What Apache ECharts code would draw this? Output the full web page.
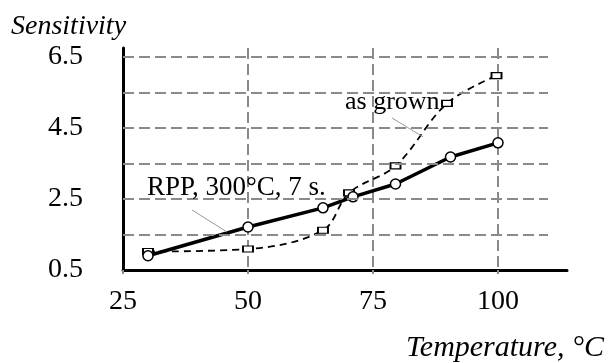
<!DOCTYPE html>
<html>
<head>
<meta charset="utf-8">
<script src="https://cdn.jsdelivr.net/npm/echarts@6/dist/echarts.min.js"></script>
<style>
  html, body { margin: 0; padding: 0; background: #fff; }
  #chart { width: 609px; height: 363px; }
</style>
</head>
<body>
<div id="chart"></div>
<script>
// данные
const tempRpp = [30, 50, 65, 71, 79.5, 90.5, 100];
const sensRpp = [0.9, 1.71, 2.25, 2.56, 2.92, 3.68, 4.08];
const tempGrown = [30, 50, 65, 70.2, 79.5, 89.8, 99.7];
const sensGrown = [1.02, 1.09, 1.62, 2.67, 3.43, 5.19, 5.97];
const yTickLabels = [0.5, 2.5, 4.5, 6.5];
const xTickLabels = [25, 50, 75, 100];
const yGridLines = [1.5, 2.5, 3.5, 4.5, 5.5, 6.5];
const gridEndX = 110;

// подписи с выносками: [текст, x, y] и отрезок выноски
const labelRpp = ['RPP, 300°C, 7 s.', 29.8, 2.8];
const leaderRpp = [[38.8, 2.19], [45.8, 1.57]];
const labelGrown = ['as grown', 69.4, 5.22];
const leaderGrown = [[78.8, 4.78], [85, 4.25]];

const FONT = '"Liberation Serif", "Times New Roman", serif';
const GRID_COLOR = '#8a8a8a';

const chart = echarts.init(document.getElementById('chart'));

const gridLineData = yGridLines.map(v => [{ coord: [25, v] }, { coord: [gridEndX, v] }]);

const option = {
  backgroundColor: '#fff',
  animation: false,
  grid: { left: 123, right: 42, top: 48, bottom: 93 },
  xAxis: {
    type: 'value',
    min: 25,
    max: 113.8,
    interval: 25,
    axisLine: { lineStyle: { color: '#000', width: 3 } },
    axisTick: { show: true, length: 4, lineStyle: { color: GRID_COLOR, width: 2 } },
    axisLabel: {
      color: '#000', fontFamily: FONT, fontSize: 28, margin: 18,
      showMaxLabel: false,
      formatter: v => xTickLabels.includes(v) ? String(v) : ''
    },
    splitLine: {
      show: true, showMinLine: false, showMaxLine: false,
      lineStyle: { color: GRID_COLOR, width: 2, type: [11, 5] }
    }
  },
  yAxis: {
    type: 'value',
    min: 0.5,
    max: 6.75,
    interval: 0.5,
    axisLine: { show: true, lineStyle: { color: '#000', width: 3 } },
    axisTick: { show: false },
    axisLabel: {
      color: '#000', fontFamily: FONT, fontSize: 28, margin: 40,
      formatter: v => yTickLabels.some(t => Math.abs(t - v) < 1e-6) ? v.toFixed(1) : ''
    },
    splitLine: { show: false }
  },
  series: [
    {
      // горизонтальная сетка до 110
      type: 'line',
      data: [],
      z: 1,
      silent: true,
      markLine: {
        silent: true,
        symbol: ['none', 'none'],
        label: { show: false },
        lineStyle: { color: GRID_COLOR, width: 2, type: [11, 5] },
        data: gridLineData
      }
    },
    {
      name: 'as grown',
      type: 'line',
      z: 3,
      smooth: 0.35,
      data: tempGrown.map((t, i) => [t, sensGrown[i]]),
      lineStyle: { color: '#000', width: 1.8, type: [7, 5] },
      symbol: 'rect',
      symbolSize: [10, 6],
      itemStyle: { color: '#fff', borderColor: '#000', borderWidth: 1.5 },
      markLine: {
        silent: true,
        symbol: ['none', 'none'],
        label: { show: false },
        lineStyle: { color: '#999', width: 1, type: 'solid' },
        data: [[{ coord: leaderGrown[0] }, { coord: leaderGrown[1] }]]
      }
    },
    {
      name: 'RPP',
      type: 'line',
      z: 4,
      data: tempRpp.map((t, i) => [t, sensRpp[i]]),
      lineStyle: { color: '#000', width: 3.5 },
      symbol: 'circle',
      symbolSize: 10,
      itemStyle: { color: '#fff', borderColor: '#000', borderWidth: 1.5 },
      markLine: {
        silent: true,
        symbol: ['none', 'none'],
        label: { show: false },
        lineStyle: { color: '#999', width: 1, type: 'solid' },
        data: [[{ coord: leaderRpp[0] }, { coord: leaderRpp[1] }]]
      }
    }
  ]
};

chart.setOption(option);

// подписи осей и аннотации
const pRpp = chart.convertToPixel('grid', [labelRpp[1], labelRpp[2]]);
const pGrown = chart.convertToPixel('grid', [labelGrown[1], labelGrown[2]]);

chart.setOption({
  graphic: [
    {
      type: 'text', z: 10,
      style: { text: 'Sensitivity', x: 11, y: 27, font: 'italic 28px ' + FONT, fill: '#000', verticalAlign: 'middle' }
    },
    {
      type: 'text', z: 10,
      style: { text: 'Temperature, °C', x: 604, y: 348, font: 'italic 30px ' + FONT, fill: '#000', align: 'right', verticalAlign: 'middle' }
    },
    {
      type: 'text', z: 10,
      style: { text: labelRpp[0], x: pRpp[0], y: pRpp[1], font: '27px ' + FONT, fill: '#000', verticalAlign: 'middle' }
    },
    {
      type: 'text', z: 10,
      style: { text: labelGrown[0], x: pGrown[0], y: pGrown[1], font: '26px ' + FONT, fill: '#000', verticalAlign: 'middle' }
    }
  ]
});
</script>
</body>
</html>
